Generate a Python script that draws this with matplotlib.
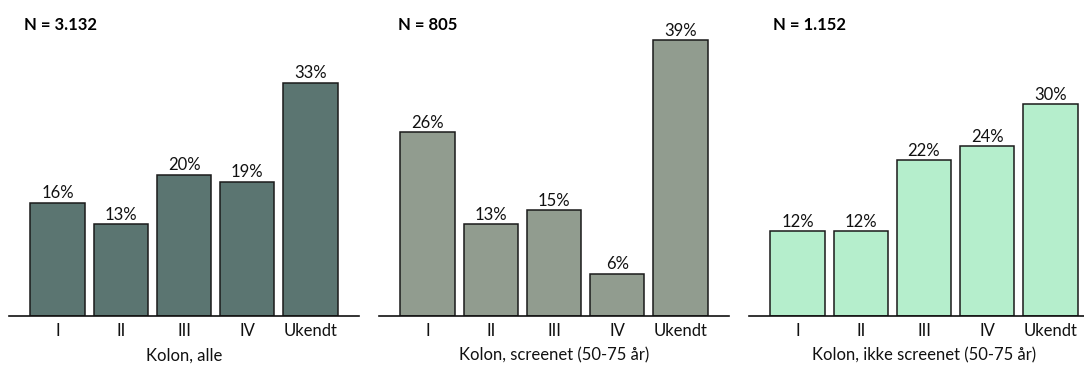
import matplotlib
matplotlib.use("Agg")
import matplotlib.pyplot as plt

categories = ["I", "II", "III", "IV", "Ukendt"]
values_alle = [16, 13, 20, 19, 33]
values_screenet = [26, 13, 15, 6, 39]
values_ikke = [12, 12, 22, 24, 30]
panel_titles = ["Kolon, alle", "Kolon, screenet (50-75 år)", "Kolon, ikke screenet (50-75 år)"]
n_labels = ["N = 3.132", "N = 805", "N = 1.152"]
colors = ["#5B7571", "#919C8F", "#B5EECC"]

W, H = 1084, 365
fig = plt.figure(figsize=(W / 100, H / 100), dpi=100)
plt.rcParams['font.family'] = ['Lato', 'DejaVu Sans']

series = [values_alle, values_screenet, values_ikke]
lefts_px = [9, 379, 749]
nx_px = [24, 398, 773]
ax_w_px = 350
base_px = 316      # baseline y from top
top_px = 30        # axes top y from top
px_per_unit = 7.07
ytop = (base_px - top_px) / px_per_unit

for i in range(3):
    ax = fig.add_axes([lefts_px[i] / W, (H - base_px) / H, ax_w_px / W, (base_px - top_px) / H])
    x = range(len(categories))
    bars = ax.bar(x, series[i], width=0.86, color=colors[i], edgecolor="#1a1a1a", linewidth=1.1, zorder=2)
    for b, v in zip(bars, series[i]):
        ax.annotate(f"{v}%", (b.get_x() + b.get_width() / 2, b.get_height()),
                    xytext=(0, 1.0), textcoords="offset points", ha="center", va="bottom",
                    fontsize=12, color="#111111")
    ax.set_xlim(-0.77, 4.77)
    ax.set_ylim(0, ytop)
    ax.set_xticks(list(x))
    ax.set_xticklabels(categories, fontsize=12, color="#111111")
    ax.tick_params(axis="x", length=0, pad=5)
    ax.set_yticks([])
    for s in ["top", "right", "left"]:
        ax.spines[s].set_visible(False)
    ax.spines["bottom"].set_linewidth(1.2)
    ax.spines["bottom"].set_color("#111111")
    ax.spines["bottom"].set_zorder(3)
    ax.set_xlabel(panel_titles[i], fontsize=12, color="#111111", labelpad=6)
    ax.patch.set_alpha(0)
    fig.text(nx_px[i] / W, 1 - 24.5 / H, n_labels[i], ha="left", va="center",
             fontsize=12, fontweight="bold", color="#000000")

fig.savefig("out.png", dpi=100)
